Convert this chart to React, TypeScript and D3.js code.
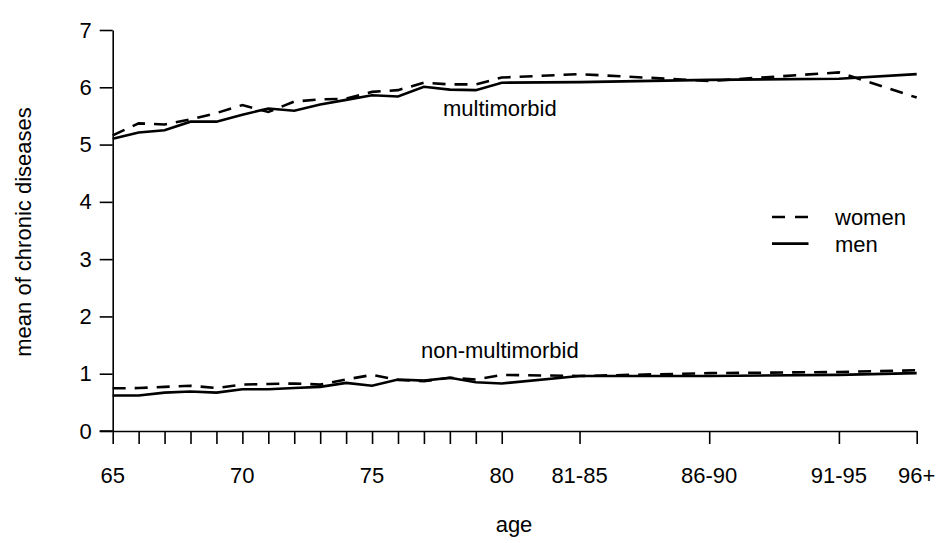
import React, { useRef, useEffect } from 'react';
import * as d3 from 'd3';

// ages on a numeric axis; the grouped ages sit at their midpoint
const ages = [65, 66, 67, 68, 69, 70, 71, 72, 73, 74, 75, 76, 77, 78, 79, 80, 83, 88, 93, 96];

const multiWomen = [5.16, 5.37, 5.35, 5.44, 5.55, 5.69, 5.57, 5.75, 5.79, 5.80, 5.92, 5.95, 6.08, 6.05, 6.05, 6.17, 6.23, 6.11, 6.26, 5.82];
const multiMen = [5.10, 5.21, 5.25, 5.40, 5.40, 5.52, 5.63, 5.59, 5.70, 5.78, 5.86, 5.84, 6.01, 5.96, 5.95, 6.08, 6.09, 6.13, 6.15, 6.23];
const nonWomen = [0.745, 0.75, 0.77, 0.79, 0.75, 0.81, 0.82, 0.83, 0.81, 0.90, 0.98, 0.89, 0.87, 0.93, 0.90, 0.98, 0.96, 1.01, 1.03, 1.06];
const nonMen = [0.62, 0.62, 0.67, 0.69, 0.67, 0.73, 0.73, 0.75, 0.77, 0.84, 0.79, 0.90, 0.88, 0.93, 0.85, 0.83, 0.96, 0.96, 0.98, 1.01];

const xTickValues = [65, 66, 67, 68, 69, 70, 71, 72, 73, 74, 75, 76, 77, 78, 79, 80, 83, 88, 93, 96];
const xLabelValues = [65, 70, 75, 80, 83, 88, 93, 96];
const xLabels = ['65', '70', '75', '80', '81-85', '86-90', '91-95', '96+'];
const yTicks = [0, 1, 2, 3, 4, 5, 6, 7];

const legendItems = [
  { label: 'women', dashed: true },
  { label: 'men', dashed: false },
];

const FONT = '"Liberation Sans", Arial, Helvetica, sans-serif';

const App: React.FC = () => {
  const svgRef = useRef<SVGSVGElement>(null);

  useEffect(() => {
    const W = 947;
    const H = 543;
    const margin = { top: 30, right: 30, bottom: 112, left: 112.7 };
    const width = 916.7 - margin.left;
    const height = 431 - margin.top;

    d3.select(svgRef.current).selectAll('*').remove();

    const root = d3
      .select(svgRef.current)
      .attr('width', W)
      .attr('height', H)
      .style('font-family', FONT);

    root.append('rect').attr('width', W).attr('height', H).attr('fill', 'white');

    const svg = root.append('g').attr('transform', `translate(${margin.left},${margin.top})`);

    const xScale = d3.scaleLinear().domain([65, 96]).range([0, width]);
    const yScale = d3.scaleLinear().domain([0, 7]).range([height, 0]);

    // y axis
    const yAxis = svg.append('g')
      .call(d3.axisLeft(yScale).tickValues(yTicks).tickSize(13).tickSizeOuter(0).tickPadding(8).tickFormat(d3.format('d')));
    yAxis.select('.domain').attr('stroke-width', 1.6);
    yAxis.selectAll('line').attr('stroke-width', 1.6);
    yAxis.selectAll('text').attr('font-size', 22).attr('font-family', FONT).attr('fill', 'black');

    // x axis
    const xAxis = svg.append('g')
      .attr('transform', `translate(0,${height})`)
      .call(d3.axisBottom(xScale).tickValues(xTickValues).tickSize(13).tickSizeOuter(0).tickFormat(() => ''));
    xAxis.select('.domain').attr('stroke-width', 1.6);
    xAxis.selectAll('line').attr('stroke-width', 1.6);

    // x axis extends a little left of the y axis, like the 0 tick
    svg.append('line')
      .attr('x1', -13).attr('x2', 0)
      .attr('y1', height).attr('y2', height)
      .attr('stroke', 'black').attr('stroke-width', 1.6);

    svg.append('g')
      .selectAll('text')
      .data(xLabelValues)
      .join('text')
      .attr('x', (d) => xScale(d))
      .attr('y', height + 52)
      .attr('text-anchor', 'middle')
      .attr('font-size', 22)
      .text((d, i) => xLabels[i]);

    // axis titles
    root.append('text')
      .attr('x', 514)
      .attr('y', 532)
      .attr('text-anchor', 'middle')
      .attr('font-size', 22)
      .text('age');

    root.append('text')
      .attr('transform', 'translate(31,232) rotate(-90)')
      .attr('text-anchor', 'middle')
      .attr('font-size', 22)
      .text('mean of chronic diseases');

    const line = d3
      .line<number>()
      .x((d, i) => xScale(ages[i]))
      .y((d) => yScale(d));

    const series = [
      { values: multiWomen, dashed: true },
      { values: multiMen, dashed: false },
      { values: nonWomen, dashed: true },
      { values: nonMen, dashed: false },
    ];

    series.forEach((s) => {
      svg.append('path')
        .datum(s.values)
        .attr('fill', 'none')
        .attr('stroke', 'black')
        .attr('stroke-width', 2.6)
        .attr('stroke-dasharray', s.dashed ? '13,9' : null)
        .attr('d', line);
    });

    // group labels
    root.append('text')
      .attr('x', 443)
      .attr('y', 116)
      .attr('font-size', 22)
      .text('multimorbid');

    root.append('text')
      .attr('x', 421)
      .attr('y', 358)
      .attr('font-size', 22)
      .text('non-multimorbid');

    // legend
    const legend = root.append('g').attr('transform', 'translate(772, 217)');
    legend.selectAll('line')
      .data(legendItems)
      .join('line')
      .attr('x1', 0)
      .attr('x2', 36.5)
      .attr('y1', (d, i) => i * 26.6)
      .attr('y2', (d, i) => i * 26.6)
      .attr('stroke', 'black')
      .attr('stroke-width', 2.6)
      .attr('stroke-dasharray', (d) => (d.dashed ? '13,10' : null));

    legend.selectAll('text')
      .data(legendItems)
      .join('text')
      .attr('x', 63)
      .attr('y', (d, i) => i * 26.6 + 8)
      .attr('font-size', 22)
      .text((d) => d.label);
  }, []);

  return (
    <div style={{ position: 'absolute', left: 0, top: 0 }}>
      <svg ref={svgRef} style={{ display: 'block' }} />
    </div>
  );
};

export default App;
